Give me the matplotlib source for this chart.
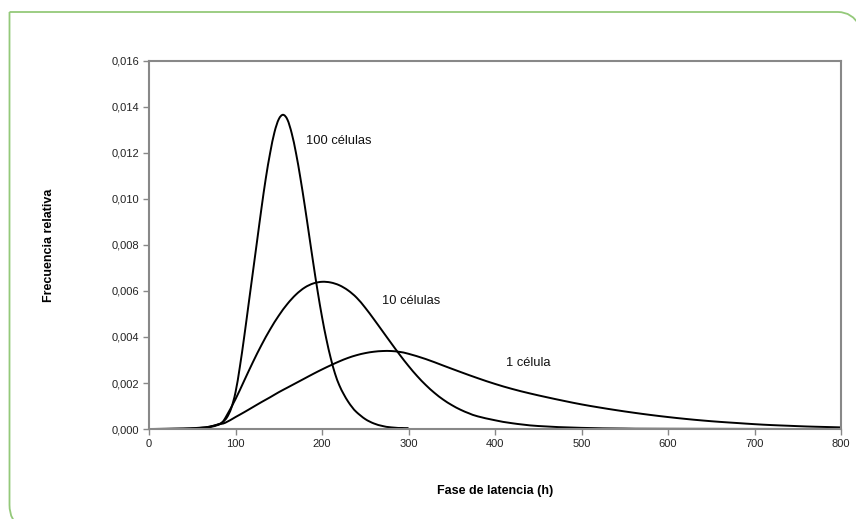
import matplotlib
matplotlib.use("Agg")
import matplotlib.pyplot as plt
from matplotlib.path import Path
from matplotlib.patches import PathPatch
from matplotlib.ticker import FuncFormatter

# lag time (h) and relative frequency
x_100 = [0, 40, 60, 70, 80, 85, 90, 95, 100, 105, 110, 115, 120, 125, 130, 135,
         140, 145, 150, 155, 160, 165, 170, 175, 180, 185, 190, 195, 200, 205,
         210, 215, 220, 225, 230, 235, 240, 250, 260, 270, 280, 300, 320, 800]
y_100 = [0, 0.00002, 0.00006, 0.0001, 0.0002, 0.0003, 0.0005, 0.0009, 0.0016,
         0.0027, 0.0040, 0.0054, 0.0068, 0.0082, 0.0096, 0.0109, 0.0120, 0.0129,
         0.01347, 0.01366, 0.01345, 0.01285, 0.01198, 0.01091, 0.00972, 0.00845,
         0.00718, 0.00597, 0.00487, 0.00391, 0.00309, 0.00241, 0.0019, 0.00152,
         0.0012, 0.00094, 0.00073, 0.00043, 0.00024, 0.00013, 0.00007, 0.00002,
         0, 0]

x_10 = [0, 50, 60, 70, 80, 85, 90, 100, 110, 120, 130, 140, 150, 160, 170, 180,
        190, 200, 210, 220, 230, 240, 250, 260, 270, 280, 290, 300, 310, 320,
        330, 340, 350, 360, 370, 380, 400, 420, 450, 500, 550, 600, 800]
y_10 = [0, 0.00001, 0.00003, 0.00008, 0.00018, 0.0003, 0.0006, 0.0013, 0.0021,
        0.0029, 0.00365, 0.00433, 0.00493, 0.00544, 0.00585, 0.00615, 0.00633,
        0.0064, 0.00637, 0.00625, 0.00603, 0.00571, 0.00527, 0.00477, 0.00425,
        0.00373, 0.00322, 0.00274, 0.0023, 0.00191, 0.00157, 0.00128, 0.00104,
        0.00084, 0.00068, 0.00055, 0.00038, 0.00025, 0.00013, 0.00005, 0.00002,
        0.00001, 0]

x_1 = [0, 40, 50, 60, 70, 80, 88, 100, 110, 120, 130, 140, 150, 160, 170, 180,
       190, 200, 210, 220, 230, 240, 250, 260, 270, 280, 290, 300, 320, 340,
       360, 380, 400, 420, 440, 460, 480, 500, 520, 540, 560, 580, 600, 620,
       640, 660, 680, 700, 720, 740, 760, 780, 800]
y_1 = [0, 0.00001, 0.00002, 0.00005, 0.0001, 0.0002, 0.00027, 0.00052, 0.00073,
       0.00095, 0.00117, 0.00138, 0.0016, 0.0018, 0.002, 0.0022, 0.0024, 0.00259,
       0.00277, 0.00294, 0.00309, 0.00321, 0.0033, 0.00336, 0.00339, 0.00339,
       0.00335, 0.00327, 0.00304, 0.00276, 0.00248, 0.00221, 0.00196, 0.00174,
       0.00155, 0.00138, 0.00122, 0.00107, 0.00094, 0.00082, 0.00071, 0.00061,
       0.00052, 0.00044, 0.00037, 0.00031, 0.00026, 0.00021, 0.00017, 0.00014,
       0.00011, 0.00009, 0.00007]

labels = ["100 células", "10 células", "1 célula"]
label_pos = [(182, 0.0125), (269, 0.00557), (413, 0.00286)]


def smooth_path(xs, ys):
    # spreadsheet-style smoothed line: cubic bezier through every point
    pts = list(zip(xs, ys))
    n = len(pts)
    verts = [pts[0]]
    codes = [Path.MOVETO]
    for i in range(n - 1):
        p0 = pts[max(i - 1, 0)]
        p1 = pts[i]
        p2 = pts[i + 1]
        p3 = pts[min(i + 2, n - 1)]
        c1 = (p1[0] + (p2[0] - p0[0]) / 6, p1[1] + (p2[1] - p0[1]) / 6)
        c2 = (p2[0] - (p3[0] - p1[0]) / 6, p2[1] - (p3[1] - p1[1]) / 6)
        verts += [c1, c2, p2]
        codes += [Path.CURVE4] * 3
    return Path(verts, codes)


plt.rcParams['font.family'] = ['Liberation Sans', 'DejaVu Sans']

fig = plt.figure(figsize=(8.56, 5.19), dpi=100)
ax = fig.add_axes([0.1741, 0.1734, 0.8084, 0.7091])

for xs, ys in [(x_100, y_100), (x_10, y_10), (x_1, y_1)]:
    ax.add_patch(PathPatch(smooth_path(xs, ys), facecolor='none',
                           edgecolor='black', linewidth=1.4, capstyle='round'))

for txt, (tx, ty) in zip(labels, label_pos):
    ax.text(tx, ty, txt, fontsize=9.3, ha='left', va='center', color='#111111')

ax.set_xlim(0, 800)
ax.set_ylim(0, 0.016)
ax.set_xticks(range(0, 801, 100))
ax.set_yticks([i * 0.002 for i in range(9)])
ax.yaxis.set_major_formatter(FuncFormatter(lambda v, p: f"{v:.3f}".replace('.', ',')))
for s in ax.spines.values():
    s.set_color('#888888')
    s.set_linewidth(1.5)
ax.tick_params(axis='both', direction='out', length=4, width=1, color='#888888',
               labelsize=8, labelcolor='#222222', pad=3)

ax.set_xlabel("Fase de latencia (h)", fontsize=9, fontweight='bold', labelpad=26)
ax.set_ylabel("Frecuencia relativa", fontsize=9, fontweight='bold', labelpad=41)

# green frame: square top-left corner, rounded top-right and bottom-left
W, H = 856.0, 519.0
l, t = 9.5, 12.0


def fig_xy(pts):
    return [(px / W, 1 - py / H) for px, py in pts]


top = Path(fig_xy([(l, t), (838, t), (852, t), (860, t + 14)]),
           [Path.MOVETO, Path.LINETO, Path.CURVE3, Path.CURVE3])
left = Path(fig_xy([(l, t), (l, 505), (l, 521), (l + 12, 528)]),
            [Path.MOVETO, Path.LINETO, Path.CURVE3, Path.CURVE3])
for p in (top, left):
    fig.patches.append(PathPatch(p, transform=fig.transFigure, facecolor='none',
                                 edgecolor='#94c97a', linewidth=1.3))

fig.savefig("out.png", dpi=100)
